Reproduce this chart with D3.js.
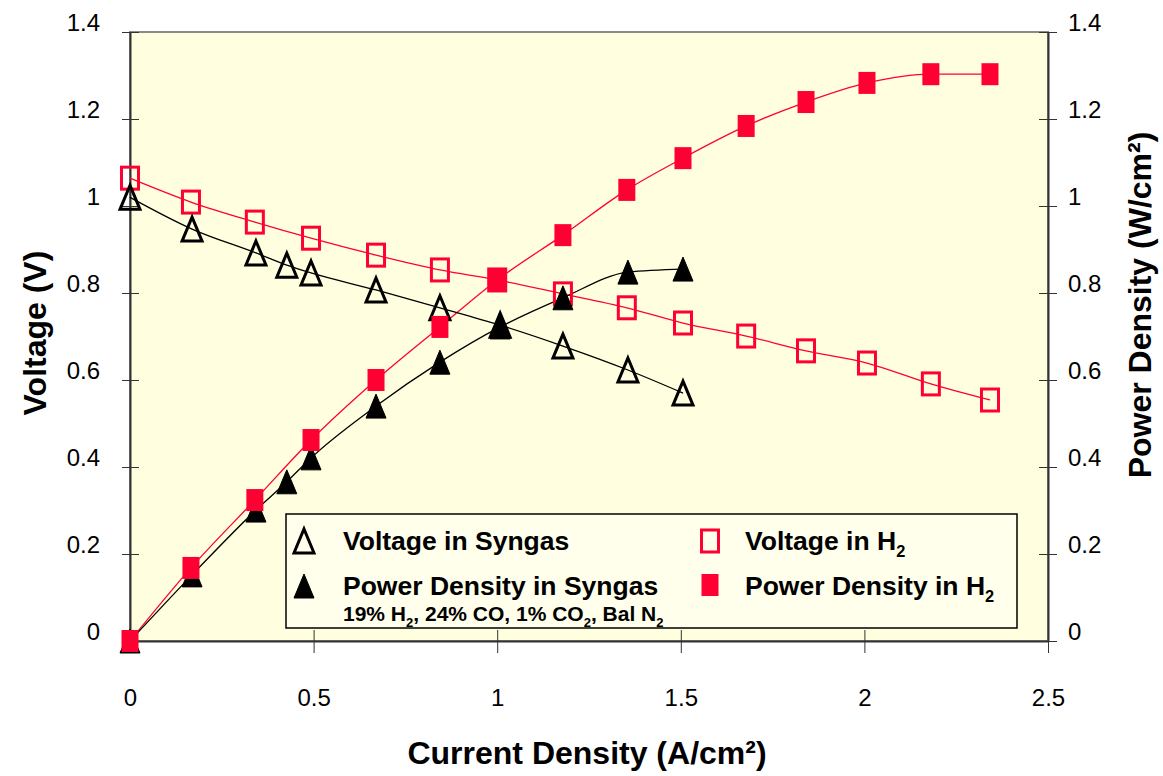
<!DOCTYPE html>
<html><head><meta charset="utf-8">
<script src="https://cdn.jsdelivr.net/npm/d3@7"></script>
<style>
html,body{margin:0;padding:0;background:#fff;}
text{font-family:"Liberation Sans",Arial,sans-serif;}
</style></head>
<body><svg id="c" width="1163" height="776"></svg>
<script>
// ---- data ----
const syngasCurrent = [0, 0.169, 0.343, 0.427, 0.493, 0.670, 0.844, 1.008, 1.179, 1.356, 1.506];
const syngasVoltage = [1.02, 0.947, 0.892, 0.864, 0.846, 0.807, 0.766, 0.726, 0.678, 0.623, 0.570];
const syngasPower   = [0, 0.152, 0.301, 0.366, 0.421, 0.540, 0.641, 0.722, 0.789, 0.848, 0.855];
const h2Current = [0, 0.166, 0.340, 0.493, 0.670, 0.844, 1.000, 1.179, 1.353, 1.506, 1.678, 1.841, 2.007, 2.181, 2.342];
const h2Voltage = [1.064, 1.009, 0.963, 0.926, 0.887, 0.853, 0.830, 0.798, 0.766, 0.731, 0.701, 0.667, 0.639, 0.591, 0.554];
const h2Power   = [0, 0.168, 0.324, 0.462, 0.600, 0.722, 0.830, 0.933, 1.037, 1.110, 1.184, 1.239, 1.283, 1.303, 1.303];
const xTicks = [0, 0.5, 1, 1.5, 2, 2.5];
const xTickLabels = ["0", "0.5", "1", "1.5", "2", "2.5"];
const yTicks = [0, 0.2, 0.4, 0.6, 0.8, 1.0, 1.2, 1.4];
const yTickLabels = ["0", "0.2", "0.4", "0.6", "0.8", "1", "1.2", "1.4"];

const RED = "#ff0033";
const BG = "#ffffdf";
const L = 130, R = 1048, T = 32, B = 641;
const svg = d3.select("#c");
const x = d3.scaleLinear().domain([0, 2.5]).range([L, R]);
const yL = d3.scaleLinear().domain([0, 1.4]).range([B, T]);
const yR = d3.scaleLinear().domain([0, 1.4]).range([B, T]);

// plot area
svg.append("rect").attr("x", L).attr("y", T).attr("width", R - L).attr("height", B - T)
  .attr("fill", BG).attr("stroke", "#8a8a8a").attr("stroke-width", 2);

// legend box (behind data)
const lg = svg.append("g");
lg.append("rect").attr("x", 286).attr("y", 514).attr("width", 731).attr("height", 114)
  .attr("fill", "#ffffec").attr("stroke", "#000").attr("stroke-width", 1.5);

// axes
const fmtX = (d, i) => xTickLabels[i];
const fmtY = (d, i) => yTickLabels[i];
const axB = svg.append("g").attr("transform", `translate(0,${B})`)
  .call(d3.axisBottom(x).tickValues(xTicks).tickFormat(fmtX).tickSizeInner(12).tickSizeOuter(0).tickPadding(36));
axB.selectAll(".tick line").attr("y1", -11).attr("y2", 12).attr("stroke", "#333");
const axL = svg.append("g").attr("transform", `translate(${L},0)`)
  .call(d3.axisLeft(yL).tickValues(yTicks).tickFormat(fmtY).tickSizeInner(9).tickSizeOuter(0).tickPadding(21));
axL.selectAll(".tick line").attr("x1", -8).attr("x2", 9).attr("stroke", "#333");
axL.selectAll(".tick text").attr("dy", "-0.05em");
const axR = svg.append("g").attr("transform", `translate(${R},0)`)
  .call(d3.axisRight(yR).tickValues(yTicks).tickFormat(fmtY).tickSizeInner(9).tickSizeOuter(0).tickPadding(11));
axR.selectAll(".tick line").attr("x1", -9).attr("x2", 9).attr("stroke", "#333");
axR.selectAll(".tick text").attr("dy", "-0.05em");
[axB, axL, axR].forEach(a => {
  a.select(".domain").attr("stroke", "#333").attr("stroke-width", 2);
  a.selectAll(".tick text").attr("font-size", 24).attr("fill", "#000")
    .attr("font-family", '"Liberation Sans",Arial,sans-serif');
});

// lines
const curve = d3.curveMonotoneX;
function drawLine(xs, ys, yScale, color) {
  const pts = xs.map((v, i) => [x(v), yScale(ys[i])]);
  svg.append("path").attr("d", d3.line().curve(curve)(pts))
    .attr("fill", "none").attr("stroke", color).attr("stroke-width", 1.3);
}
drawLine(h2Current, h2Voltage, yL, RED);
drawLine(h2Current, h2Power, yR, RED);
drawLine(syngasCurrent, syngasVoltage, yL, "#000");
drawLine(syngasCurrent, syngasPower, yR, "#000");

// markers
const TW = 20, TH = 24, SW = 17, SH = 22;
function tri(cx, cy) {
  return `M${cx},${cy - TH / 2}L${cx + TW / 2},${cy + TH / 2}L${cx - TW / 2},${cy + TH / 2}Z`;
}
function squares(g, xs, ys, yScale, filled) {
  g.selectAll(null).data(xs).enter().append("rect")
    .attr("x", (d) => x(d) - SW / 2).attr("y", (d, i) => yScale(ys[i]) - SH / 2)
    .attr("width", SW).attr("height", SH)
    .attr("fill", filled ? RED : "none").attr("stroke", RED).attr("stroke-width", filled ? 0 : 3);
}
function triangles(g, xs, ys, yScale, filled) {
  g.selectAll(null).data(xs).enter().append("path")
    .attr("d", (d, i) => tri(x(d), yScale(ys[i])))
    .attr("fill", filled ? "#000" : "none").attr("stroke", "#000")
    .attr("stroke-width", filled ? 1 : 3).attr("stroke-linejoin", "miter");
}
const mg = svg.append("g");
squares(mg, h2Current, h2Voltage, yL, false);
triangles(mg, syngasCurrent, syngasVoltage, yL, false);
triangles(mg, syngasCurrent, syngasPower, yR, true);
squares(mg, h2Current, h2Power, yR, true);

// legend content
const lgc = svg.append("g");
lgc.append("path").attr("d", tri(304, 541)).attr("fill", "none").attr("stroke", "#000").attr("stroke-width", 3);
lgc.append("path").attr("d", tri(304, 586)).attr("fill", "#000").attr("stroke", "#000");
lgc.append("rect").attr("x", 710 - SW / 2).attr("y", 541 - SH / 2).attr("width", SW).attr("height", SH)
  .attr("fill", "none").attr("stroke", RED).attr("stroke-width", 3);
lgc.append("rect").attr("x", 710 - SW / 2).attr("y", 585 - SH / 2).attr("width", SW).attr("height", SH)
  .attr("fill", RED);
function label(xp, yp, parts, size) {
  const t = lgc.append("text").attr("x", xp).attr("y", yp).attr("font-size", size).attr("font-weight", "bold");
  let shifted = false;
  parts.forEach(p => {
    const ts = t.append("tspan").text(p.s);
    if (p.sub) { ts.attr("font-size", size * 0.62).attr("dy", size * 0.28); shifted = true; }
    else if (shifted) { ts.attr("dy", -size * 0.28); shifted = false; }
  });
}
label(343, 550, [{ s: "Voltage in Syngas" }], 26.5);
label(343, 595, [{ s: "Power Density in Syngas" }], 26.5);
label(343, 621, [{ s: "19% H" }, { s: "2", sub: 1 }, { s: ", 24% CO, 1% CO" }, { s: "2", sub: 1 }, { s: ", Bal N" }, { s: "2", sub: 1 }], 21);
label(745, 550, [{ s: "Voltage in H" }, { s: "2", sub: 1 }], 26.5);
label(745, 595, [{ s: "Power Density in H" }, { s: "2", sub: 1 }], 26.5);

// axis titles
svg.append("text").attr("x", 587).attr("y", 764).attr("text-anchor", "middle")
  .attr("font-size", 32).attr("font-weight", "bold").text("Current Density (A/cm²)");
svg.append("text").attr("transform", "translate(46,333) rotate(-90)").attr("text-anchor", "middle")
  .attr("font-size", 32).attr("font-weight", "bold").text("Voltage (V)");
svg.append("text").attr("transform", "translate(1151,305) rotate(-90)").attr("text-anchor", "middle")
  .attr("font-size", 32).attr("font-weight", "bold").text("Power Density (W/cm²)");
</script></body></html>
